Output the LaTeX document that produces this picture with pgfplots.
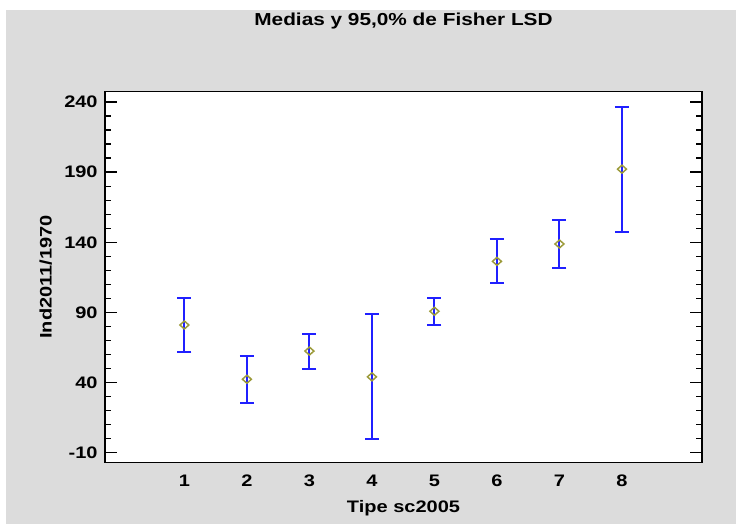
\documentclass[border=0pt]{standalone}
\usepackage{fontspec}
\setmainfont{Liberation Sans}[FakeStretch=1.2]
\usepackage{pgfplots}
\pgfplotsset{compat=1.18}
\definecolor{bggray}{HTML}{DCDCDC}
\definecolor{markolive}{HTML}{9C9B3A}
\definecolor{barblue}{HTML}{2020FF}

\pgfplotstableread{
x y e
1 81.0 19.5
2 42.3 16.9
3 62.4 12.5
4 44.0 44.5
5 90.8 9.5
6 126.4 15.7
7 138.8 16.9
8 192.2 44.5
}\lsd

\begin{document}
\begin{tikzpicture}
% 1px = 0.75pt, picture 736x524 px
\useasboundingbox (0pt,0pt) rectangle (552pt,393pt);
\fill[white] (0pt,0pt) rectangle (552pt,393pt);
\fill[bggray] (4.5pt,0pt) rectangle (552pt,385.5pt);
\begin{axis}[
    at={(78.75pt,46.125pt)}, anchor=south west,
    scale only axis,
    width=447.75pt, height=278.25pt,
    xmin=-0.27, xmax=9.28,
    ymin=-17.1, ymax=247.6,
    axis background/.style={fill=white},
    axis line style={line width=1.4pt},
    font=\fontsize{12.5}{14}\selectfont\bfseries,
    xtick={1,2,3,4,5,6,7,8},
    xticklabels={1,2,3,4,5,6,7,8},
    x tick style={draw=none},
    xticklabel style={yshift=-6pt},
    ytick={-10,40,90,140,190,240},
    yticklabels={-10,40,90,140,190,240},
    minor y tick num=4,
    ytick pos=both,
    tick align=inside,
    major tick length=9pt,
    minor tick length=4.5pt,
    y tick style={line width=1.1pt, black},
    yticklabel style={xshift=-2pt},
    xlabel={Tipe sc2005},
    xlabel style={at={(axis description cs:0.5,-0.1226)}, anchor=center},
    ylabel={Ind2011/1970},
    ylabel style={at={(axis description cs:-0.0993,0.5)}, anchor=center},
    title={Medias y 95,0\% de Fisher LSD},
    title style={at={(axis description cs:0.5,1.1685)}, anchor=center, font=\fontsize{13}{15}\selectfont\bfseries},
]
\addplot[only marks, mark=diamond, mark size=3pt,
    mark options={xscale=1.5, draw=markolive, line width=1.1pt, fill=none},
    error bars/.cd, y dir=both, y explicit,
    error bar style={barblue, line width=1.5pt},
    error mark options={barblue, line width=1.5pt, mark size=5.25pt, rotate=90}]
    table[x=x, y=y, y error=e] {\lsd};
\end{axis}
\end{tikzpicture}
\end{document}
